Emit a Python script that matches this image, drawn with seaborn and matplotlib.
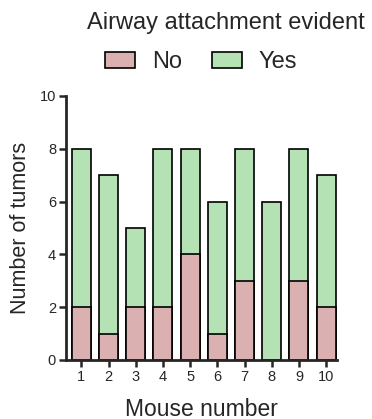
import pandas as pd
import matplotlib.pyplot as plt
import seaborn as sns
from matplotlib.patches import Patch

# data
mice = ['1', '2', '3', '4', '5', '6', '7', '8', '9', '10']
no_counts = [2, 1, 2, 2, 4, 1, 3, 0, 3, 2]
yes_counts = [6, 6, 3, 6, 4, 5, 5, 6, 5, 5]

df = pd.DataFrame({'mouse': mice, 'No': no_counts, 'Yes': yes_counts})
df['total'] = df['No'] + df['Yes']

sns.set_style('ticks')
plt.rcParams['font.family'] = ['Liberation Sans', 'DejaVu Sans']

pink = '#dbb0b0'
green = '#b4e2b4'

fig = plt.figure(figsize=(3.72, 4.19), dpi=100)
ax = fig.add_axes([0.177, 0.141, 0.729, 0.630])

# stacked bars: total in green, No drawn over it in pink
sns.barplot(data=df, x='mouse', y='total', color=green, width=0.7,
            edgecolor='black', linewidth=1.2, saturation=1, ax=ax)
sns.barplot(data=df, x='mouse', y='No', color=pink, width=0.7,
            edgecolor='black', linewidth=1.2, saturation=1, ax=ax)

ax.set_ylim(0, 10)
ax.set_yticks([0, 2, 4, 6, 8, 10])
ax.set_xlim(-0.57, 9.4)
ax.set_xlabel('Mouse number', fontsize=16.5, labelpad=10)
ax.set_ylabel('Number of tumors', fontsize=15.5, labelpad=6)
ax.tick_params(axis='both', labelsize=10.5, width=1.8, length=5, pad=2)
for s in ['left', 'bottom']:
    ax.spines[s].set_linewidth(2)
sns.despine(ax=ax)

fig.text(0.608, 0.945, 'Airway attachment evident', ha='center', va='center',
         fontsize=17)
handles = [Patch(facecolor=pink, edgecolor='black', linewidth=1.2, label='No'),
           Patch(facecolor=green, edgecolor='black', linewidth=1.2, label='Yes')]
fig.legend(handles=handles, ncol=2, loc='center', bbox_to_anchor=(0.54, 0.852),
           frameon=False, fontsize=17, handlelength=1.27, handleheight=0.64,
           columnspacing=1.27, handletextpad=0.72, borderpad=0, borderaxespad=0)

fig.savefig('out.png', dpi=100)
